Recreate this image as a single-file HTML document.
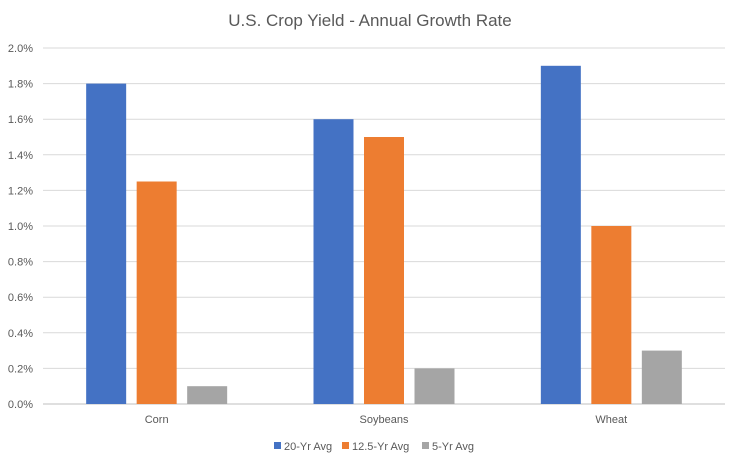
<!DOCTYPE html>
<html><head><meta charset="utf-8"><style>
body{margin:0;background:#fff;font-family:"Liberation Sans",sans-serif}
svg text{font-family:"Liberation Sans",sans-serif;fill:#595959}
</style></head><body>
<svg id="chart" width="740" height="465">
<text x="370" y="26" text-anchor="middle" font-size="17">U.S. Crop Yield - Annual Growth Rate</text>
<g id="grid"></g><g id="bars"></g><g id="legend"></g>
</svg>
<script>
const categories=["Corn","Soybeans","Wheat"];
const seriesNames=["20-Yr Avg","12.5-Yr Avg","5-Yr Avg"];
const colors=["#4472C4","#ED7D31","#A5A5A5"];
const yr20=[1.8,1.6,1.9];
const yr125=[1.25,1.5,1.0];
const yr5=[0.1,0.2,0.3];
const yTicks=[0,0.2,0.4,0.6,0.8,1.0,1.2,1.4,1.6,1.8,2.0];
const ns="http://www.w3.org/2000/svg";
const x0=43,x1=725,y0=404,y1=48,yMax=2.0;
const y=v=>y0-(v/yMax)*(y0-y1);
const catW=(x1-x0)/categories.length;
function mk(t,a,p){const e=document.createElementNS(ns,t);for(const k in a)e.setAttribute(k,a[k]);p.appendChild(e);return e;}
const grid=document.getElementById('grid');
yTicks.forEach(v=>{
 const l=mk('line',{x1:x0,x2:x1,y1:y(v),y2:y(v),stroke:v===0?'#bfbfbf':'#d9d9d9','stroke-width':1},grid);
 
 
 const t=mk('text',{x:33,y:y(v)+4,'text-anchor':'end','font-size':11},grid);
 t.textContent=v.toFixed(1)+'%';
 
 
});
const bars=document.getElementById('bars');
const series=[yr20,yr125,yr5];
const bw=40,gap=10.5;
categories.forEach((c,i)=>{
 const cx=x0+catW*(i+0.5);
 series.forEach((s,j)=>{
  const bx=cx-bw*1.5-gap+j*(bw+gap);
  const r=mk('rect',{x:bx,y:y(s[i]),width:bw,height:y0-y(s[i]),fill:colors[j]},bars);
  
  
 });
 const t=mk('text',{x:cx,y:423,'text-anchor':'middle','font-size':11},bars);
 t.textContent=c;
 
 
});
const lg=document.getElementById('legend');
const lx=[274,342,422];
seriesNames.forEach((n,j)=>{
 const r=mk('rect',{x:lx[j],y:442,width:7,height:7,fill:colors[j]},lg);
 
 
 const t=mk('text',{x:lx[j]+10,y:450,'font-size':11},lg);
 t.textContent=n;
 
 
});
</script>
</body></html>
